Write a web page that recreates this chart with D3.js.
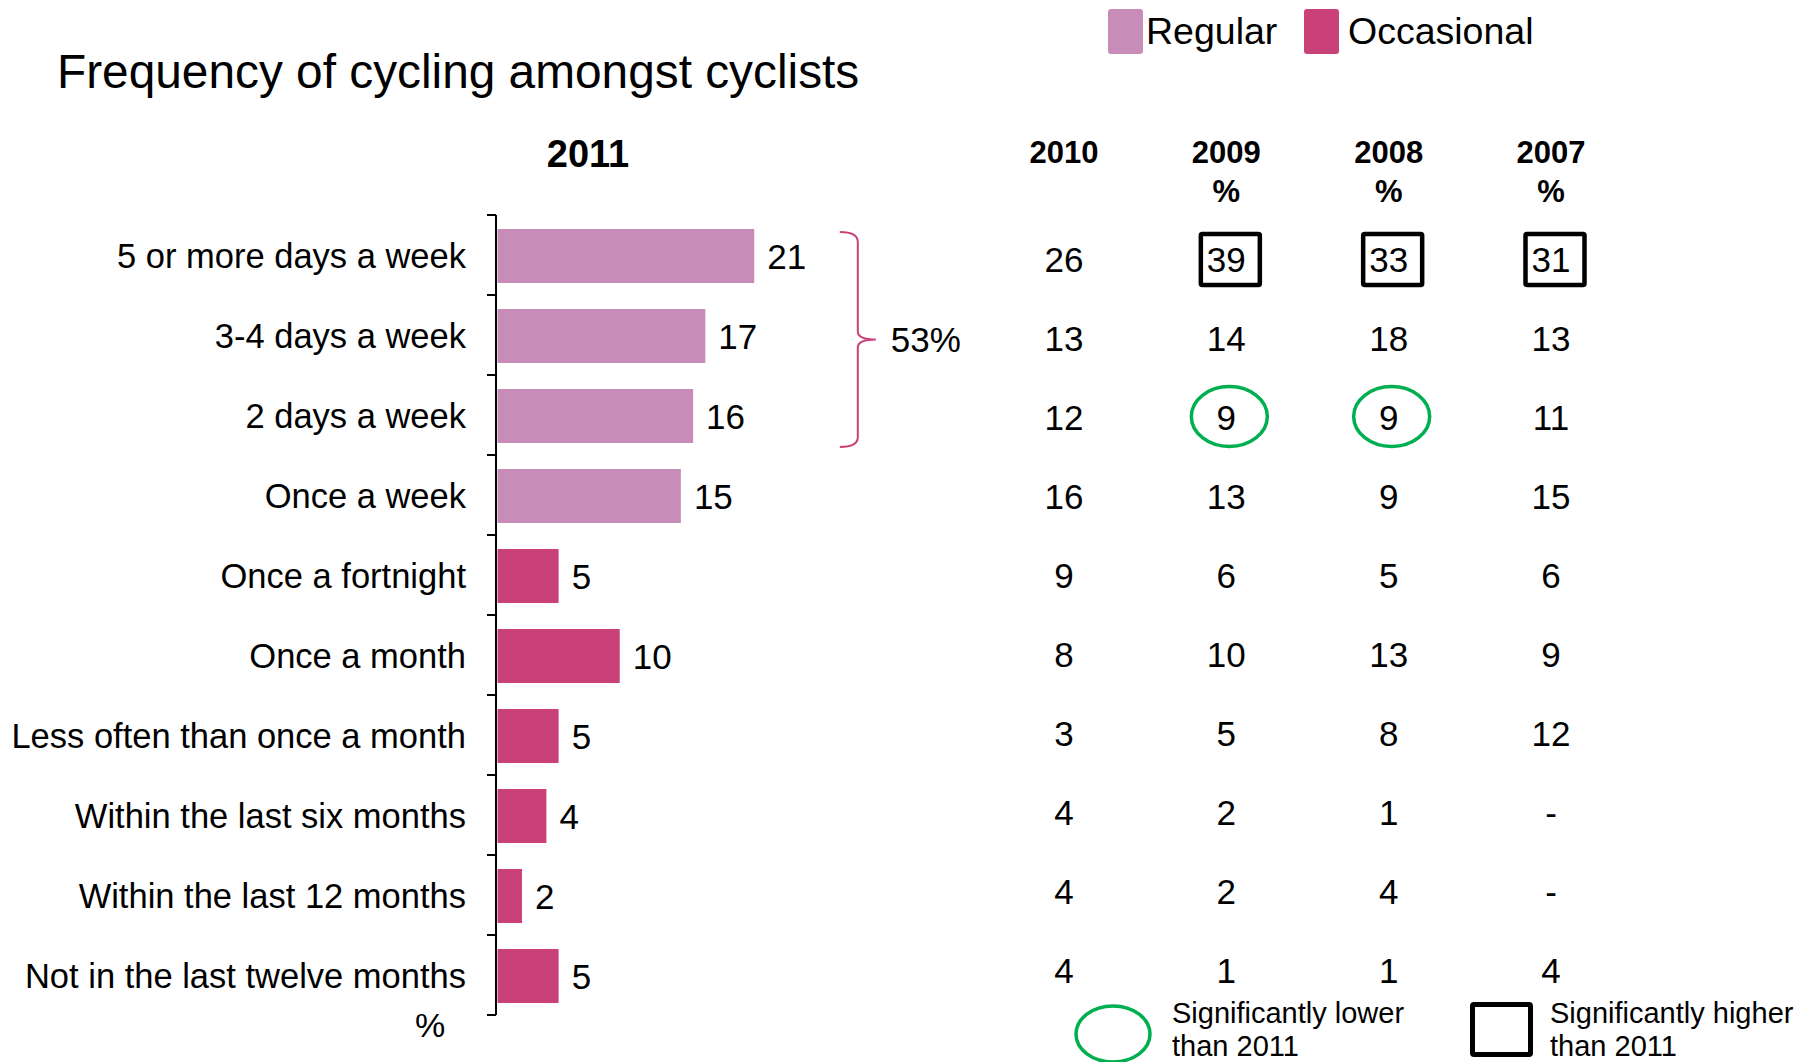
<!DOCTYPE html>
<html>
<head>
<meta charset="utf-8">
<script src="https://cdn.jsdelivr.net/npm/d3@7"></script>
<style>
  body { margin: 0; background: #fff; }
  svg { display: block; font-family: "Liberation Sans", Arial, sans-serif; }
</style>
</head>
<body>
<div id="chart"></div>
<script>
// 2011 frequencies (%)
var categories = [
    "5 or more days a week", "3-4 days a week", "2 days a week", "Once a week",
    "Once a fortnight", "Once a month", "Less often than once a month",
    "Within the last six months", "Within the last 12 months", "Not in the last twelve months"
];
var values2011 = [21, 17, 16, 15, 5, 10, 5, 4, 2, 5];
var groups = ["Regular", "Regular", "Regular", "Regular",
    "Occasional", "Occasional", "Occasional", "Occasional", "Occasional", "Occasional"];

// earlier years, table on the right
var years = ["2010", "2009", "2008", "2007"];
var values2010 = [26, 13, 12, 16, 9, 8, 3, 4, 4, 4];
var values2009 = [39, 14, 9, 13, 6, 10, 5, 2, 2, 1];
var values2008 = [33, 18, 9, 9, 5, 13, 8, 1, 4, 1];
var values2007 = [31, 13, 11, 15, 6, 9, 12, "-", "-", 4];

// significance marks: [row index, year]
var sigHigher = [[0, "2009"], [0, "2008"], [0, "2007"]];
var sigLower = [[2, "2009"], [2, "2008"]];

var regularTotal = "53%";

var colors = { Regular: "#c88cb8", Occasional: "#c94178" };
var green = "#00b050";

var width = 1801, height = 1062;

var svg = d3.select("#chart").append("svg")
    .attr("width", width)
    .attr("height", height);

svg.append("rect").attr("width", width).attr("height", height).attr("fill", "#fff");

// title
svg.append("text")
    .attr("x", 57).attr("y", 88)
    .style("font-size", "47.8px")
    .text("Frequency of cycling amongst cyclists");

// legend
var legend = svg.append("g").attr("class", "legend");
var legendX = d3.scaleOrdinal().domain(["Regular", "Occasional"]).range([1108, 1304]);
["Regular", "Occasional"].forEach(function(k) {
    legend.append("rect")
        .attr("x", legendX(k)).attr("y", 9)
        .attr("width", 35).attr("height", 45)
        .attr("rx", 3)
        .attr("fill", colors[k]);
    legend.append("text")
        .attr("x", legendX(k) + (k === "Regular" ? 38 : 44)).attr("y", 44)
        .style("font-size", "37.5px")
        .text(k);
});

// scales
var x = d3.scaleLinear().domain([0, 40]).range([497.5, 497.5 + 489]);
var y = d3.scaleBand().domain(categories).range([215, 1015]).paddingInner(0.325).paddingOuter(0.1625);

// axis with ticks at band edges
var axisG = svg.append("g");
axisG.append("line")
    .attr("x1", 496).attr("x2", 496)
    .attr("y1", 215).attr("y2", 1015)
    .attr("stroke", "#000").attr("stroke-width", 2);
var edges = categories.map(function(c) { return y(c) - y.step() * y.paddingInner() / 2; });
edges.push(1015);
axisG.selectAll(".tick").data(edges).enter().append("line")
    .attr("class", "tick")
    .attr("x1", 487).attr("x2", 496)
    .attr("y1", function(d) { return d; }).attr("y2", function(d) { return d; })
    .attr("stroke", "#000").attr("stroke-width", 2);

// header 2011
svg.append("text")
    .attr("x", 588).attr("y", 167)
    .attr("text-anchor", "middle")
    .style("font-size", "38px").style("font-weight", "bold")
    .text("2011");

// category labels
svg.selectAll(".cat").data(categories).enter().append("text")
    .attr("class", "cat")
    .attr("x", 466)
    .attr("y", function(d) { return y(d) + y.bandwidth() / 2 + 1; })
    .attr("dy", "0.36em")
    .attr("text-anchor", "end")
    .style("font-size", "34.5px")
    .text(function(d) { return d; });

svg.append("text")
    .attr("x", 415).attr("y", 1037)
    .style("font-size", "34px")
    .text("%");

// bars
svg.selectAll(".bar").data(values2011).enter().append("rect")
    .attr("class", "bar")
    .attr("x", x(0))
    .attr("y", function(d, i) { return y(categories[i]) + 1; })
    .attr("width", function(d) { return x(d) - x(0); })
    .attr("height", y.bandwidth())
    .attr("fill", function(d, i) { return colors[groups[i]]; });

svg.selectAll(".val").data(values2011).enter().append("text")
    .attr("class", "val")
    .attr("x", function(d) { return x(d) + 13; })
    .attr("y", function(d, i) { return y(categories[i]) + y.bandwidth() / 2 + 1; })
    .attr("dy", "0.36em")
    .style("font-size", "35px")
    .text(function(d) { return d; });

// bracket for regular cyclists
var bx = x(28), by0 = y(categories[0]) + 4, by1 = y(categories[2]) + y.bandwidth() + 5;
var bm = (by0 + by1) / 2;
svg.append("path")
    .attr("d", "M" + bx + "," + by0 +
        " Q" + (bx + 18) + "," + by0 + " " + (bx + 18) + "," + (by0 + 10) +
        " L" + (bx + 18) + "," + (bm - 8) +
        " Q" + (bx + 18) + "," + bm + " " + (bx + 36) + "," + bm +
        " Q" + (bx + 18) + "," + bm + " " + (bx + 18) + "," + (bm + 8) +
        " L" + (bx + 18) + "," + (by1 - 10) +
        " Q" + (bx + 18) + "," + by1 + " " + bx + "," + by1)
    .attr("fill", "none")
    .attr("stroke", colors.Occasional)
    .attr("stroke-width", 2);
svg.append("text")
    .attr("x", bx + 51).attr("y", bm)
    .attr("dy", "0.36em")
    .style("font-size", "35px")
    .text(regularTotal);

// table of earlier years
var colX = d3.scalePoint().domain(years).range([1064, 1551]);
var rowY = d3.scaleBand().domain(categories).range([220, 1010]);
var table = { "2010": values2010, "2009": values2009, "2008": values2008, "2007": values2007 };

years.forEach(function(yr) {
    var h = svg.append("text")
        .attr("x", colX(yr)).attr("y", 163)
        .attr("text-anchor", "middle")
        .style("font-size", "31px").style("font-weight", "bold");
    h.append("tspan").attr("x", colX(yr)).text(yr);
    if (yr !== "2010") h.append("tspan").attr("x", colX(yr)).attr("dy", 39).text("%");

    svg.selectAll(".t" + yr).data(table[yr]).enter().append("text")
        .attr("class", "t" + yr)
        .attr("x", colX(yr))
        .attr("y", function(d, i) { return rowY(categories[i]) + rowY.bandwidth() / 2; })
        .attr("dy", "0.36em")
        .attr("text-anchor", "middle")
        .style("font-size", "35px")
        .text(function(d) { return d; });
});

svg.selectAll(".hi").data(sigHigher).enter().append("rect")
    .attr("class", "hi")
    .attr("x", function(d) { return colX(d[1]) + 4 - 29.5; })
    .attr("y", function(d) { return rowY(categories[d[0]]) + rowY.bandwidth() / 2 - 25.5; })
    .attr("width", 59).attr("height", 51)
    .attr("rx", 1.5)
    .attr("fill", "none").attr("stroke", "#000").attr("stroke-width", 4.5);

svg.selectAll(".lo").data(sigLower).enter().append("ellipse")
    .attr("class", "lo")
    .attr("cx", function(d) { return colX(d[1]) + 3; })
    .attr("cy", function(d) { return rowY(categories[d[0]]) + rowY.bandwidth() / 2 - 1; })
    .attr("rx", 38).attr("ry", 30)
    .attr("fill", "none").attr("stroke", green).attr("stroke-width", 3.5);

// significance key
var key = svg.append("g");
key.append("ellipse")
    .attr("cx", 1113).attr("cy", 1034).attr("rx", 37).attr("ry", 28)
    .attr("fill", "none").attr("stroke", green).attr("stroke-width", 3.5);
var k1 = key.append("text").attr("x", 1172).attr("y", 1023).style("font-size", "29px");
k1.append("tspan").attr("x", 1172).text("Significantly lower");
k1.append("tspan").attr("x", 1172).attr("dy", 33).text("than 2011");

key.append("rect")
    .attr("x", 1472.5).attr("y", 1004.5).attr("width", 58).attr("height", 50)
    .attr("rx", 1.5)
    .attr("fill", "none").attr("stroke", "#000").attr("stroke-width", 5);
var k2 = key.append("text").attr("x", 1550).attr("y", 1023).style("font-size", "29px");
k2.append("tspan").attr("x", 1550).text("Significantly higher");
k2.append("tspan").attr("x", 1550).attr("dy", 33).text("than 2011");
</script>
</body>
</html>
